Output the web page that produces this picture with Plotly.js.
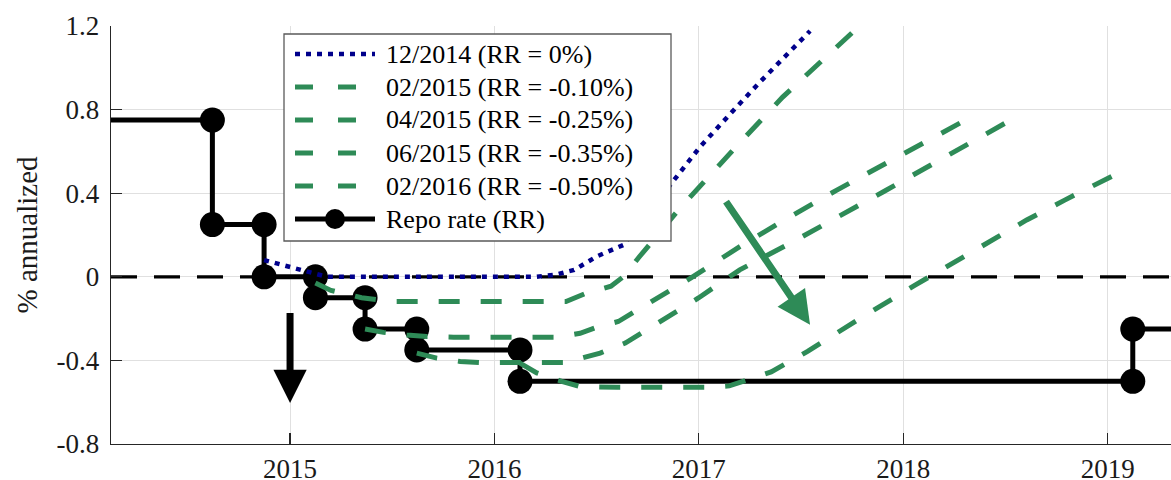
<!DOCTYPE html>
<html>
<head>
<meta charset="utf-8">
<script src="https://cdn.plot.ly/plotly-3.0.1.min.js"></script>
<style>html,body{margin:0;padding:0;background:#fff;}#chart{width:1171px;height:480px;}</style>
</head>
<body>
<div id="chart"></div>
<script>
// ---------- data ----------
const xRange = [2014.124, 2019.31];
const yRange = [-0.8, 1.2];
const xTicks = [2015, 2016, 2017, 2018, 2019];
const xTickLabels = ['2015', '2016', '2017', '2018', '2019'];
const yTicks = [-0.8, -0.4, 0, 0.4, 0.8, 1.2];
const yTickLabels = ['-0.8', '-0.4', '0', '0.4', '0.8', '1.2'];

// Repo rate (step function); first/last dates only extend the line to the edges
const repoDates = [2014.0, 2014.62, 2014.873, 2015.124, 2015.367, 2015.62, 2016.125, 2019.123, 2019.5];
const repoRates = [0.75, 0.25, 0.00, -0.10, -0.25, -0.35, -0.50, -0.25, -0.25];

// Forecast paths
const f1214Dates = [2014.873, 2015.05, 2015.18, 2016.2, 2016.3, 2016.39, 2016.5, 2016.63, 2016.875, 2017.006, 2017.17, 2017.3, 2017.544];
const f1214Vals  = [0.08, 0.033, 0.0, 0.0, 0.01, 0.033, 0.097, 0.152, 0.463, 0.622, 0.797, 0.933, 1.176];

const f0215Dates = [2015.124, 2015.2, 2015.35, 2015.5, 2016.35, 2016.45, 2016.57, 2016.63, 2016.71, 2016.9, 2017.18, 2017.41, 2017.78];
const f0215Vals  = [-0.03, -0.065, -0.10, -0.118, -0.118, -0.078, -0.045, 0.0, 0.097, 0.32, 0.62, 0.86, 1.195];

const f0415Dates = [2015.367, 2015.457, 2015.571, 2015.669, 2015.8, 2016.305, 2016.419, 2016.5, 2016.606, 2016.784, 2016.962, 2017.2, 2017.405, 2017.675, 2018.32];
const f0415Vals  = [-0.25, -0.266, -0.278, -0.286, -0.289, -0.289, -0.27, -0.241, -0.214, -0.11, -0.005, 0.144, 0.264, 0.415, 0.758];

const f0615Dates = [2015.62, 2015.718, 2015.832, 2015.93, 2016.345, 2016.45, 2016.517, 2016.64, 2016.82, 2017.0, 2017.2, 2017.446, 2017.903, 2018.54];
const f0615Vals  = [-0.365, -0.389, -0.405, -0.41, -0.41, -0.381, -0.365, -0.317, -0.206, -0.10, 0.033, 0.16, 0.407, 0.758];

const f0216Dates = [2016.125, 2016.207, 2016.329, 2016.419, 2016.6, 2017.042, 2017.149, 2017.25, 2017.354, 2017.532, 2017.79, 2018.06, 2018.325, 2018.604, 2018.79, 2019.065];
const f0216Vals  = [-0.413, -0.46, -0.50, -0.525, -0.529, -0.529, -0.522, -0.488, -0.455, -0.357, -0.198, -0.039, 0.113, 0.272, 0.367, 0.503];

const seriesNames = ['12/2014 (RR = 0%)', '02/2015 (RR = -0.10%)', '04/2015 (RR = -0.25%)', '06/2015 (RR = -0.35%)', '02/2016 (RR = -0.50%)', 'Repo rate (RR)'];

// Arrows: [tailX, tailY, tipX, tipY]
const blackArrow = [2015.0, -0.166, 2015.0, -0.604];
const greenArrow = [2017.128, 0.367, 2017.544, -0.23];

// ---------- styling ----------
const GREEN = '#2e8b57';
const BLUE = '#00008b';
const FONT = 'Liberation Serif, Times New Roman, serif';
const GREEN_DASH = '21px,21px';
const BLUE_DASH = '5px,6px';

// marker points at each rate change (old and new value)
const mkX = [], mkY = [];
for (let i = 1; i < repoDates.length - 1; i++) {
  mkX.push(repoDates[i], repoDates[i]);
  mkY.push(repoRates[i - 1], repoRates[i]);
}

const traces = [
  {x: xRange, y: [0, 0], mode: 'lines', line: {color: '#000', width: 3.2, dash: '26px,17px'}, hoverinfo: 'skip'},
  {x: repoDates, y: repoRates, mode: 'lines', line: {color: '#000', width: 5, shape: 'hv'}},
  {x: mkX, y: mkY, mode: 'markers', marker: {color: '#000', size: 25}},
  {x: f0216Dates, y: f0216Vals, mode: 'lines', line: {color: GREEN, width: 5, dash: GREEN_DASH}},
  {x: f0615Dates, y: f0615Vals, mode: 'lines', line: {color: GREEN, width: 5, dash: GREEN_DASH}},
  {x: f0415Dates, y: f0415Vals, mode: 'lines', line: {color: GREEN, width: 5, dash: GREEN_DASH}},
  {x: f0215Dates, y: f0215Vals, mode: 'lines', line: {color: GREEN, width: 5, dash: GREEN_DASH}},
  {x: f1214Dates, y: f1214Vals, mode: 'lines', line: {color: BLUE, width: 4.5, dash: BLUE_DASH}}
];

// ---------- manual legend (pixel layout -> paper coords) ----------
const W = 1171, H = 480, ML = 111, MR = 0, MT = 26, MB = 36;
const PW = W - ML - MR, PH = H - MT - MB;
const px = v => (v - ML) / PW;
const py = v => (H - MB - v) / PH;

const legBox = {x0: 284, y0: 34, x1: 671, y1: 241};
const rowY0 = 54, rowStep = 33;
const sampleX0 = 295, sampleX1 = 375, textX = 384;

const shapes = [
  {type: 'rect', xref: 'paper', yref: 'paper', x0: px(legBox.x0), x1: px(legBox.x1), y0: py(legBox.y1), y1: py(legBox.y0),
   fillcolor: '#fff', line: {color: '#5a5a5a', width: 1.3}}
];
const styles = [
  {color: BLUE, width: 4.5, dash: BLUE_DASH},
  {color: GREEN, width: 5, dash: '18px,25px'},
  {color: GREEN, width: 5, dash: '18px,25px'},
  {color: GREEN, width: 5, dash: '18px,25px'},
  {color: GREEN, width: 5, dash: '18px,25px'},
  {color: '#000', width: 5, dash: 'solid'}
];
const annotations = [];
seriesNames.forEach((name, i) => {
  const yy = rowY0 + i * rowStep;
  shapes.push({type: 'line', xref: 'paper', yref: 'paper', x0: px(sampleX0), x1: px(sampleX1), y0: py(yy), y1: py(yy), line: styles[i]});
  annotations.push({xref: 'paper', yref: 'paper', x: px(textX), y: py(yy), xanchor: 'left', yanchor: 'middle', text: name, showarrow: false,
    font: {family: FONT, size: 26, color: '#000'}});
});
{
  const yy = rowY0 + 5 * rowStep, cx = (sampleX0 + sampleX1) / 2, r = 10;
  shapes.push({type: 'circle', xref: 'paper', yref: 'paper', x0: px(cx - r), x1: px(cx + r), y0: py(yy + r), y1: py(yy - r), fillcolor: '#000', line: {color: '#000', width: 0}});
}

// arrows
[[blackArrow, '#000'], [greenArrow, GREEN]].forEach(([a, c]) => {
  annotations.push({x: a[2], y: a[3], ax: a[0], ay: a[1], xref: 'x', yref: 'y', axref: 'x', ayref: 'y', text: '', showarrow: true,
    arrowhead: 2, arrowwidth: 7, arrowsize: 0.95, arrowcolor: c, standoff: 0});
});

const axisCommon = {
  showgrid: true, gridcolor: '#e0e0e0', gridwidth: 1, zeroline: false,
  showline: true, linecolor: '#262626', linewidth: 1.3,
  ticks: 'inside', ticklen: 11, tickwidth: 1.3, tickcolor: '#262626',
  tickfont: {family: FONT, size: 27, color: '#1a1a1a'}
};

const layout = {
  width: W, height: H,
  margin: {l: ML, r: MR, t: MT, b: MB, pad: 0},
  paper_bgcolor: '#fff', plot_bgcolor: '#fff',
  showlegend: false,
  xaxis: Object.assign({}, axisCommon, {range: xRange, tickmode: 'array', tickvals: xTicks, ticktext: xTickLabels, ticklabelstandoff: 0}),
  yaxis: Object.assign({}, axisCommon, {range: yRange, tickmode: 'array', tickvals: yTicks, ticktext: yTickLabels, ticklabelstandoff: 5,
    title: {text: '% annualized', font: {family: FONT, size: 29, color: '#1a1a1a'}, standoff: 10}}),
  shapes: shapes,
  annotations: annotations
};

Plotly.newPlot('chart', traces, layout, {staticPlot: true, displayModeBar: false});
</script>
</body>
</html>
